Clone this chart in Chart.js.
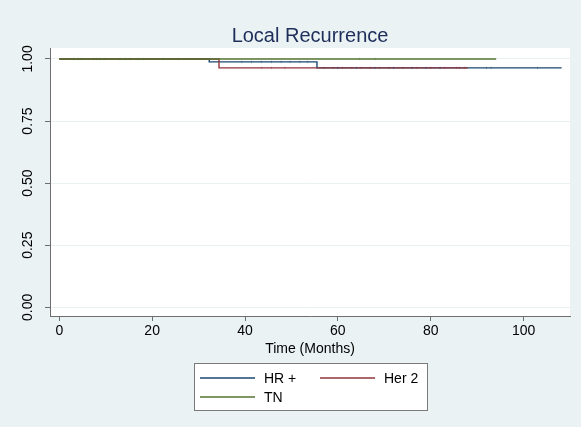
<!DOCTYPE html>
<html>
<head>
<meta charset="utf-8">
<script src="https://cdn.jsdelivr.net/npm/chart.js@4"></script>
<style>
html,body{margin:0;padding:0;background:#eaf2f3}
canvas{display:block}
</style>
</head>
<body>
<canvas id="km" width="581" height="427"></canvas>
<script>
// Kaplan-Meier steps (months, survival)
const seriesNames = ['HR +', 'Her 2', 'TN']
const hrTime = [0, 32.3, 55.5, 108.2]
const hrSurv = [1, 0.988, 0.964, 0.964]
const her2Time = [0, 34.4, 88]
const her2Surv = [1, 0.964, 0.964]
const tnTime = [0, 94.1]
const tnSurv = [1, 1]

// censoring ticks (months)
const hrCensor = [39.3, 41.4, 43.5, 45.7, 47.8, 49.7, 51.8, 53.5, 60, 64, 68, 72, 76, 79, 82, 92, 93, 103]
const her2Censor = [43.6, 45.7, 48.6, 57, 59, 61, 63, 65, 67, 69, 71, 74, 77, 80, 83, 85.6, 86.2, 87.3]
const tnCensor = [3.1, 4.1, 4.8, 7.4, 8.1, 8.8, 9.9, 13.1, 14.2, 15.3, 17, 18, 22.4, 25.6, 64.7, 68]

const xTicks = [0, 20, 40, 60, 80, 100]
const yTicks = [0, 0.25, 0.5, 0.75, 1]

const colors = ['#1a476f', '#90353b', '#55752f']
const font = 'Liberation Sans, Arial, Helvetica, sans-serif'

function steps(t, s) {
    return t.map((v, i) => ({x: v, y: s[i]}))
}

function survAt(t, s, when) {
    let val = s[0]
    t.forEach((v, i) => { if (v <= when) val = s[i] })
    return val
}

function censorPts(c, t, s) {
    return c.map(v => ({x: v, y: survAt(t, s, v)}))
}

const lines = [[hrTime, hrSurv], [her2Time, her2Surv], [tnTime, tnSurv]]
const censors = [hrCensor, her2Censor, tnCensor]

// later series are painted over earlier ones, like the original
const datasets = []
lines.forEach((l, i) => {
    datasets.push({
        label: seriesNames[i],
        data: steps(l[0], l[1]),
        xAxisID: 'x',
        yAxisID: 'y',
        order: 10 - i,
        showLine: true,
        stepped: true,
        borderColor: colors[i],
        borderWidth: 1.4,
        pointRadius: 0,
        fill: false
    })
})
censors.forEach((c, i) => {
    datasets.push({
        label: seriesNames[i] + ' censored',
        data: censorPts(c, lines[i][0], lines[i][1]),
        xAxisID: 'x',
        yAxisID: 'y',
        order: 5 - i,
        showLine: false,
        pointStyle: 'line',
        rotation: 90,
        pointRadius: 1.2,
        pointBorderWidth: 0.6,
        borderColor: colors[i] + 'aa',
        backgroundColor: colors[i]
    })
})

const bgPlugin = {
    id: 'bg',
    beforeDraw(chart) {
        const {ctx, chartArea: a} = chart
        ctx.save()
        ctx.fillStyle = '#eaf2f3'
        ctx.fillRect(0, 0, chart.width, chart.height)
        ctx.fillStyle = '#ffffff'
        ctx.fillRect(a.left, a.top, a.right - a.left, a.bottom - a.top)
        ctx.restore()
    }
}

const legendPlugin = {
    id: 'boxLegend',
    afterDraw(chart) {
        const ctx = chart.ctx
        const bx = 194, by = 363, bw = 233, bh = 47
        ctx.save()
        ctx.fillStyle = '#ffffff'
        ctx.fillRect(bx, by, bw, bh)
        ctx.strokeStyle = '#7a7a7a'
        ctx.lineWidth = 1
        ctx.strokeRect(bx + 0.5, by + 0.5, bw, bh)
        const items = [
            {i: 0, x: bx + 6, y: by + 15},
            {i: 1, x: bx + 126, y: by + 15},
            {i: 2, x: bx + 6, y: by + 34}
        ]
        ctx.font = '14px ' + font
        ctx.textBaseline = 'middle'
        ctx.fillStyle = '#000000'
        items.forEach(it => {
            ctx.strokeStyle = colors[it.i]
            ctx.lineWidth = 1.4
            ctx.beginPath()
            ctx.moveTo(it.x, it.y)
            ctx.lineTo(it.x + 55, it.y)
            ctx.stroke()
            ctx.fillText(seriesNames[it.i], it.x + 64, it.y + 1)
        })
        ctx.restore()
    }
}

new Chart(document.getElementById('km'), {
    type: 'scatter',
    data: {datasets: datasets},
    plugins: [bgPlugin, legendPlugin],
    options: {
        responsive: false,
        animation: false,
        layout: {padding: {left: 22, right: 11, top: 0, bottom: 66}},
        plugins: {
            legend: {display: false},
            tooltip: {enabled: false}
        },
        scales: {
            x: {
                type: 'linear',
                position: 'bottom',
                min: -2,
                max: 110,
                afterBuildTicks: s => { s.ticks = xTicks.map(v => ({value: v})) },
                afterFit: s => { s.height = 45 },
                border: {color: '#6e6e6e', width: 1},
                grid: {drawOnChartArea: false, tickLength: 5, tickColor: '#6e6e6e'},
                ticks: {color: '#000', font: {family: font, size: 14}, padding: 2, maxRotation: 0},
                title: {
                    display: true,
                    text: 'Time (Months)',
                    color: '#000',
                    font: {family: font, size: 14},
                    padding: {top: 0, bottom: 3}
                }
            },
            y: {
                type: 'linear',
                min: -0.035,
                max: 1.044,
                afterBuildTicks: s => { s.ticks = yTicks.map(v => ({value: v})) },
                afterFit: s => { s.width = 28 },
                border: {color: '#6e6e6e', width: 1},
                grid: {color: '#e8f0f2', tickColor: '#6e6e6e', tickLength: 5, lineWidth: 1},
                ticks: {
                    color: '#000',
                    font: {family: font, size: 14},
                    minRotation: 90,
                    maxRotation: 90,
                    crossAlign: 'center',
                    padding: 3,
                    callback: v => v.toFixed(2)
                }
            },
            // top axis only carries the graph title, centred over the plot
            top: {
                type: 'linear',
                axis: 'x',
                position: 'top',
                min: 0,
                max: 1,
                afterFit: s => { s.height = 48 },
                border: {display: false},
                grid: {display: false},
                ticks: {display: false},
                title: {
                    display: true,
                    text: 'Local Recurrence',
                    color: '#1e2d59',
                    font: {family: font, size: 20},
                    padding: {top: 24, bottom: 0}
                }
            }
        }
    }
})
</script>
</body>
</html>
